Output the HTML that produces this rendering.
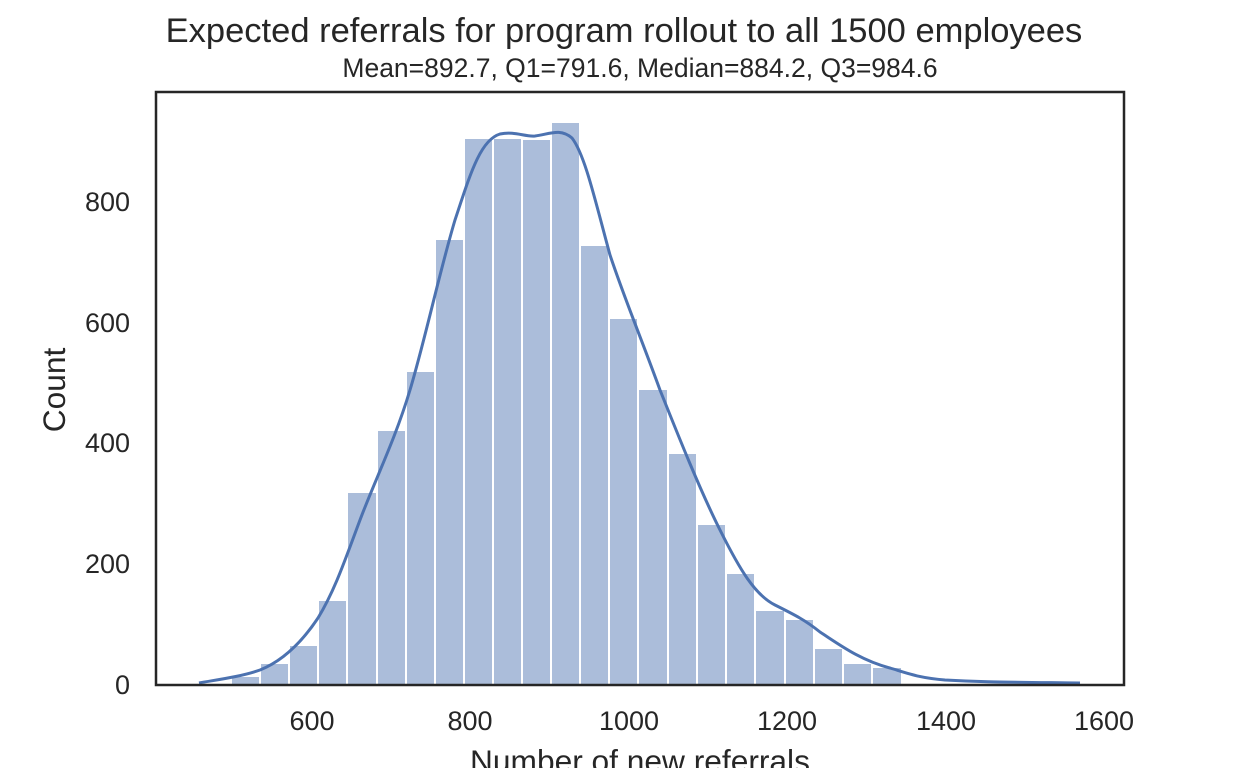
<!DOCTYPE html>
<html><head><style>body{margin:0;background:#fff}</style></head><body>
<svg width="1248" height="768" xmlns="http://www.w3.org/2000/svg" font-family="Liberation Sans, DejaVu Sans, sans-serif" fill="#262626">
<text x="624" y="42" font-size="34.5" text-anchor="middle">Expected referrals for program rollout to all 1500 employees</text>
<text x="640" y="77" font-size="26.5" text-anchor="middle">Mean=892.7, Q1=791.6, Median=884.2, Q3=984.6</text>
<g fill="#4c72b0" fill-opacity="0.47" stroke="#fff" stroke-width="2">
<rect x="231" y="676" width="29" height="9"/>
<rect x="260" y="663" width="29" height="22"/>
<rect x="289" y="645" width="29" height="40"/>
<rect x="318" y="600" width="29" height="85"/>
<rect x="347" y="492" width="30" height="193"/>
<rect x="377" y="430" width="29" height="255"/>
<rect x="406" y="371" width="29" height="314"/>
<rect x="435" y="239" width="29" height="446"/>
<rect x="464" y="138" width="29" height="547"/>
<rect x="493" y="138" width="29" height="547"/>
<rect x="522" y="139" width="29" height="546"/>
<rect x="551" y="122" width="29" height="563"/>
<rect x="580" y="245" width="29" height="440"/>
<rect x="609" y="318" width="29" height="367"/>
<rect x="638" y="389" width="30" height="296"/>
<rect x="668" y="453" width="29" height="232"/>
<rect x="697" y="524" width="29" height="161"/>
<rect x="726" y="573" width="29" height="112"/>
<rect x="755" y="610" width="30" height="75"/>
<rect x="785" y="619" width="29" height="66"/>
<rect x="814" y="648" width="29" height="37"/>
<rect x="843" y="663" width="29" height="22"/>
<rect x="872" y="667" width="30" height="18"/>
</g>
<path d="M199,683 C215,680 240,677 260,670 C280,662 300,645 318,618 C335,590 345,560 360,520 C375,480 395,440 410,390 C425,340 440,270 455,220 C470,175 480,140 500,134 C515,131 525,137 535,136 C550,134 560,128 572,138 C585,155 595,200 610,255 C625,300 640,335 660,390 C680,440 700,490 720,530 C740,570 755,595 775,605 C795,615 805,620 820,632 C840,645 860,660 890,668 C910,674 920,678 945,680 C980,682 1000,682 1080,683" fill="none" stroke="#4c72b0" stroke-width="3"/>
<rect x="156" y="92" width="968" height="593" fill="none" stroke="#262626" stroke-width="2.5"/>
<g font-size="27" text-anchor="end">
<text x="130" y="694">0</text><text x="130" y="573">200</text><text x="130" y="452">400</text><text x="130" y="332">600</text><text x="130" y="211">800</text>
</g>
<g font-size="27" text-anchor="middle">
<text x="312" y="730">600</text><text x="470" y="730">800</text><text x="629" y="730">1000</text><text x="787" y="730">1200</text><text x="946" y="730">1400</text><text x="1104" y="730">1600</text>
</g>
<text x="640" y="772" font-size="31.7" text-anchor="middle">Number of new referrals</text>
<text transform="translate(65,390) rotate(-90)" font-size="31.7" text-anchor="middle">Count</text>
</svg>
</body></html>
